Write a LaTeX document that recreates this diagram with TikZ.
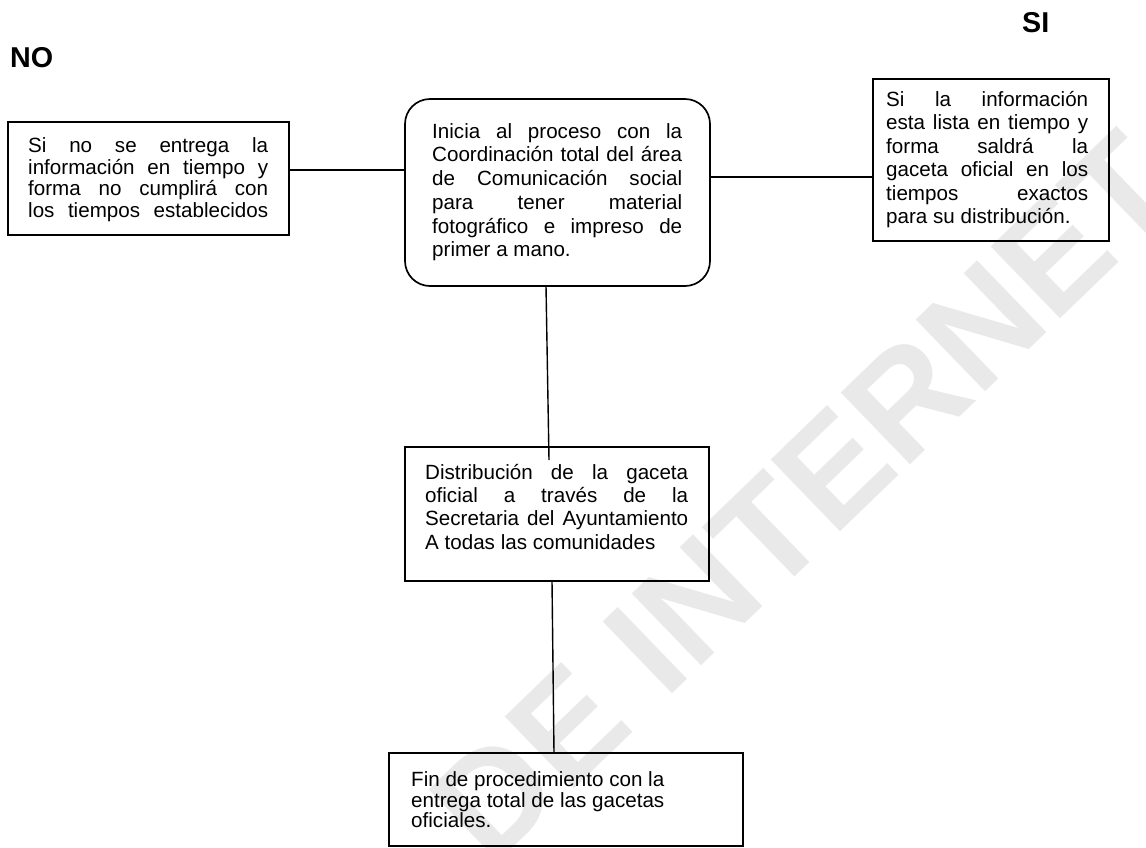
\documentclass[tikz,border=0pt]{standalone}
\usepackage{fontspec}
\setmainfont{Liberation Sans}
\newcommand\jline[2]{\makebox[#1][s]{#2}}
\begin{document}
\begin{tikzpicture}[x=1pt,y=-1pt,
  box/.style={draw, line width=1.7pt, rectangle, inner sep=0pt, outer sep=0pt, anchor=north west},
  conn/.style={line width=1.4pt},
  txt/.style={anchor=north west, inner sep=0pt, align=left},
  head/.style={anchor=base west, inner sep=0pt, font=\bfseries\fontsize{28.7}{32}\selectfont},
  wmark/.style={rotate=44, inner sep=0pt, text=gray!17, font=\bfseries\fontsize{145}{150}\selectfont}]
\useasboundingbox (0,0) rectangle (1146,847);
\fill[white] (0,0) rectangle (1146,847);
% watermark
\node[wmark] (wm) at (805,497) {DE INTERNET};
% headings
\node[head] (lno) at (10,67) {NO};
\node[head] (lsi) at (1022,32) {SI};
% boxes
\node[box, minimum width=281pt, minimum height=113pt] (no) at (8,122) {};
\node[box, rounded corners=25pt, minimum width=305pt, minimum height=187pt] (ini) at (405,99) {};
\node[box, minimum width=236pt, minimum height=162pt] (si) at (873,79) {};
\node[box, minimum width=304pt, minimum height=134pt] (dist) at (405,447) {};
\node[box, minimum width=354pt, minimum height=93pt] (fin) at (389,753) {};
% texts
\node[txt, font=\fontsize{20.6}{21.8}\selectfont] (noT) at (28,132)
 {\rule{0pt}{20pt}\jline{240pt}{Si no se entrega la}\\
  \jline{240pt}{información en tiempo y}\\
  \jline{240pt}{forma no cumplirá con}\\
  \jline{240pt}{los tiempos establecidos}};
\node[txt, font=\fontsize{20.6}{23.7}\selectfont] (iniT) at (432,118)
 {\rule{0pt}{20pt}\jline{250pt}{Inicia al proceso con la}\\
  \jline{250pt}{Coordinación total del área}\\
  \jline{250pt}{de Comunicación social}\\
  \jline{250pt}{para tener material}\\
  \jline{250pt}{fotográfico e impreso de}\\
  primer a mano.};
\node[txt, font=\fontsize{20.6}{23.5}\selectfont] (siT) at (886,86)
 {\rule{0pt}{20pt}\jline{202pt}{Si la información}\\
  \jline{202pt}{esta lista en tiempo y}\\
  \jline{202pt}{forma saldrá la}\\
  \jline{202pt}{gaceta oficial en los}\\
  \jline{202pt}{tiempos exactos}\\
  para su distribución.};
\node[txt, font=\fontsize{20.6}{23.3}\selectfont] (distT) at (425,459)
 {\rule{0pt}{20pt}\jline{263pt}{Distribución de la gaceta}\\
  \jline{263pt}{oficial a través de la}\\
  \jline{263pt}{Secretaria del Ayuntamiento}\\
  A todas las comunidades};
\node[txt, font=\fontsize{20.6}{20.8}\selectfont] (finT) at (411,766)
 {\rule{0pt}{20pt}Fin de procedimiento con la\\
  entrega total de las gacetas\\
  oficiales.};
% connectors
\coordinate (c1e) at (549,460);
\draw[conn] ([yshift=8.5pt]no.east) -- ([yshift=8.5pt]no.east -| ini.west);
\draw[conn] ([yshift=15.5pt]ini.east) -- ([yshift=15.5pt]ini.east -| si.west);
\draw[conn] ([xshift=-11.5pt]ini.south) -- (c1e);
\draw[conn] ([xshift=-5pt]dist.south) -- ([xshift=-12pt]fin.north);
\end{tikzpicture}
\end{document}
